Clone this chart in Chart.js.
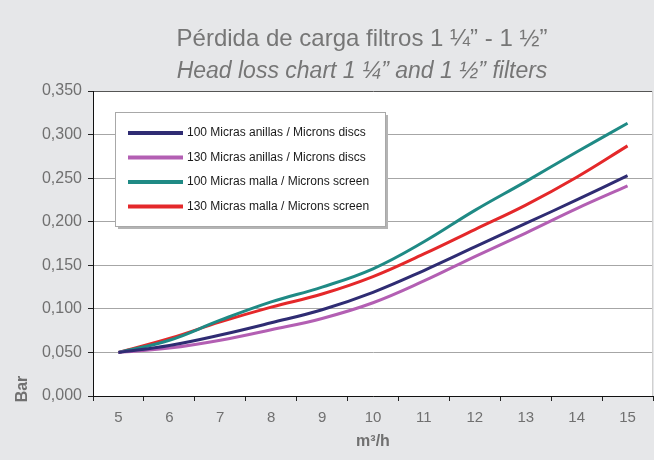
<!DOCTYPE html>
<html>
<head>
<meta charset="utf-8">
<script src="https://cdn.jsdelivr.net/npm/chart.js@4"></script>
<style>
  body { margin: 0; background: #e6e7e9; }
  #wrap { width: 654px; height: 460px; }
</style>
</head>
<body>
<div id="wrap"><canvas id="myChart"></canvas></div>
<script>
// caudal m3/h
var caudal = ['5', '6', '7', '8', '9', '10', '11', '12', '13', '14', '15'];

var discs100 = [0.050, 0.058, 0.070, 0.084, 0.099, 0.119, 0.144, 0.171, 0.198, 0.225, 0.253];
var discs130 = [0.050, 0.055, 0.064, 0.076, 0.089, 0.107, 0.132, 0.160, 0.187, 0.215, 0.241];
var screen100 = [0.050, 0.064, 0.087, 0.108, 0.125, 0.146, 0.177, 0.213, 0.246, 0.280, 0.313];
var screen130 = [0.050, 0.066, 0.085, 0.102, 0.117, 0.137, 0.163, 0.191, 0.219, 0.251, 0.287];

var nombres = [
  '100 Micras anillas / Microns discs',
  '130 Micras anillas / Microns discs',
  '100 Micras malla / Microns screen',
  '130 Micras malla / Microns screen'
];
var colores = ['#2f2c73', '#b35fb3', '#1f8a85', '#e4282a'];

var yTicks = [0, 0.05, 0.1, 0.15, 0.2, 0.25, 0.3, 0.35];

var titulo1 = 'Pérdida de carga filtros 1 ¼” - 1 ½”';
var titulo2 = 'Head loss chart 1 ¼” and 1 ½” filters';

// fondo blanco del area y textos
var extras = {
  id: 'extras',
  beforeDraw: function(chart) {
    var c = chart.ctx, a = chart.chartArea;
    c.save();
    c.fillStyle = '#ffffff';
    c.fillRect(a.left, a.top, a.right - a.left, a.bottom - a.top);
    c.restore();
  },
  afterDraw: function(chart) {
    var c = chart.ctx, a = chart.chartArea;
    c.save();
    // borde derecho
    c.strokeStyle = '#d0d0d0';
    c.lineWidth = 1;
    c.beginPath();
    c.moveTo(a.right - 0.5, a.top);
    c.lineTo(a.right - 0.5, a.bottom);
    c.stroke();

    // titulos
    c.fillStyle = '#767676';
    c.textAlign = 'center';
    c.textBaseline = 'alphabetic';
    c.font = '24px "Liberation Sans", Arial, sans-serif';
    c.fillText(titulo1, 362, 46);
    c.font = 'italic 23px "Liberation Sans", Arial, sans-serif';
    c.fillText(titulo2, 362, 78);

    // ejes
    c.fillStyle = '#707070';
    c.font = 'bold 16px "Liberation Sans", Arial, sans-serif';
    c.fillText('m³/h', 373, 446);
    c.save();
    c.translate(27, 389);
    c.rotate(-Math.PI / 2);
    c.textAlign = 'center';
    c.fillText('Bar', 0, 0);
    c.restore();

    // leyenda
    var lx = 115, ly = 112, lw = 270, lh = 114;
    c.fillStyle = '#b4b4b4';
    c.fillRect(lx + 3, ly + 3, lw, lh);
    c.fillStyle = '#ffffff';
    c.fillRect(lx, ly, lw, lh);
    c.strokeStyle = '#a8a8a8';
    c.strokeRect(lx + 0.5, ly + 0.5, lw, lh);
    c.font = '12px "Liberation Sans Narrow", "Liberation Sans", Arial, sans-serif';
    c.textAlign = 'left';
    c.textBaseline = 'middle';
    chart.data.datasets.forEach(function(ds, i) {
      var y = 133 + i * 24.5;
      c.strokeStyle = ds.borderColor;
      c.lineWidth = 4;
      c.beginPath();
      c.moveTo(128, y);
      c.lineTo(183, y);
      c.stroke();
      c.fillStyle = '#1a1a1a';
      c.fillText(ds.label, 187, y);
    });
    c.restore();
  }
};

var series = [discs100, discs130, screen100, screen130];
var datasets = [];
for (var i in series) {
  datasets.push({
    label: nombres[i],
    data: series[i],
    borderColor: colores[i],
    backgroundColor: colores[i],
    borderWidth: 3,
    pointRadius: 0,
    tension: 0.4,
    fill: false
  });
}

var ctx = document.getElementById('myChart').getContext('2d');
var lineChart = new Chart(ctx, {
  type: 'line',
  data: {
    labels: caudal,
    datasets: datasets
  },
  options: {
    responsive: true,
    maintainAspectRatio: false,
    animation: false,
    layout: { padding: { top: 91, right: 1, left: 0, bottom: 0 } },
    plugins: {
      legend: { display: false },
      title: { display: false },
      tooltip: { enabled: false }
    },
    scales: {
      x: {
        type: 'category',
        offset: true,
        grid: {
          offset: true,
          drawOnChartArea: false,
          tickLength: 5,
          tickColor: '#222'
        },
        border: { color: '#111', width: 1 },
        ticks: {
          color: '#707070',
          padding: 8,
          font: { size: 15, family: '"Liberation Sans", Arial, sans-serif' }
        },
        afterFit: function(scale) { scale.height = 64; }
      },
      y: {
        min: 0,
        max: 0.35,
        afterBuildTicks: function(scale) {
          scale.ticks = yTicks.map(function(v) { return { value: v }; });
        },
        grid: {
          color: function(c) { return c.tick && c.tick.value === 0.35 ? '#555' : '#a6a6a6'; },
          tickLength: 5,
          tickColor: '#222'
        },
        border: { color: '#111', width: 1 },
        ticks: {
          color: '#707070',
          padding: 6,
          font: { size: 16, family: '"Liberation Sans", Arial, sans-serif' },
          callback: function(v) { return v.toFixed(3).replace('.', ','); }
        },
        afterFit: function(scale) { scale.width = 93; }
      }
    }
  },
  plugins: [extras]
});
</script>
</body>
</html>
